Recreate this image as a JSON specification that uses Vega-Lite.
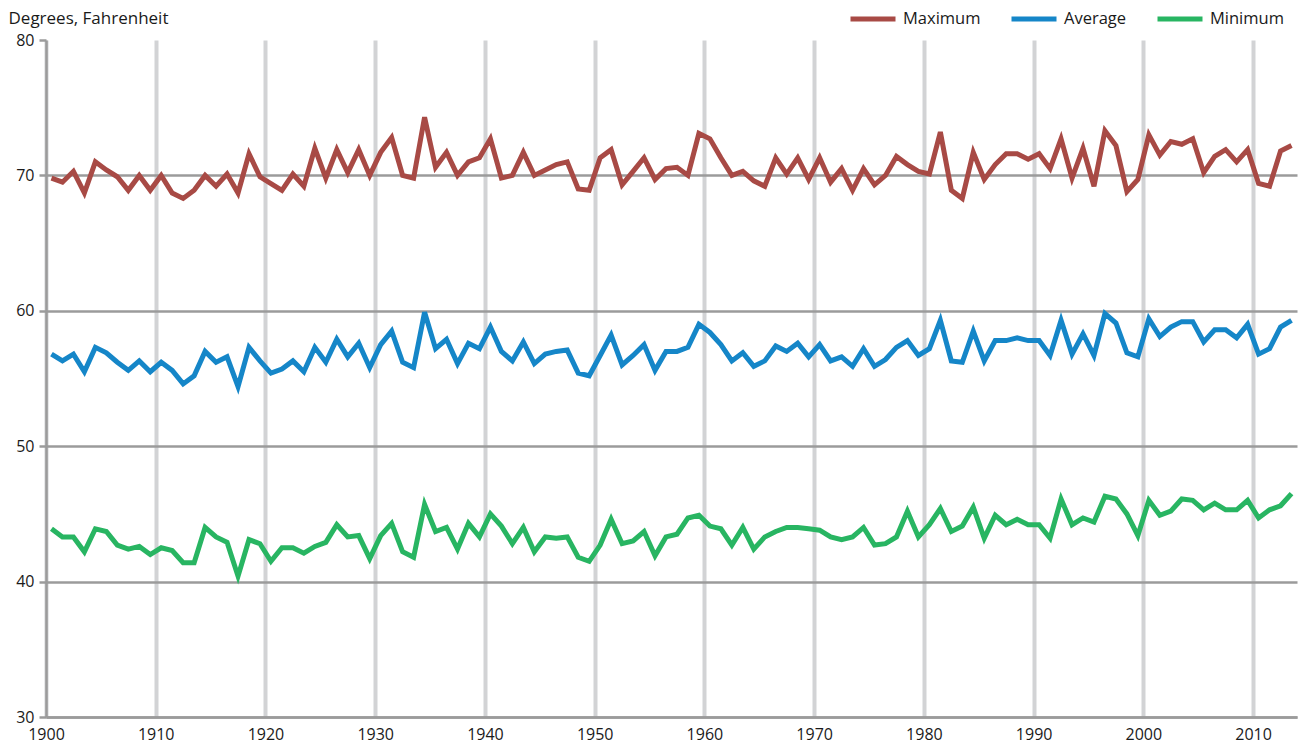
{
  "$schema": "https://vega.github.io/schema/vega-lite/v6.json",
  "autosize": "none",
  "width": 1251,
  "height": 677,
  "padding": {"left": 46, "top": 40, "right": 4, "bottom": 37},
  "background": "white",
  "config": {
    "view": {"stroke": null},
    "font": "Open Sans",
    "axis": {"labelFont": "Open Sans", "labelFontSize": 16, "labelColor": "#1a1a1a", "titleFont": "Open Sans"},
    "legend": {"labelFont": "Open Sans"}
  },
  "data": {
    "values": [
      {"year":"1900","Maximum":69.8,"Average":56.8,"Minimum":43.9},
      {"year":"1901","Maximum":69.5,"Average":56.3,"Minimum":43.3},
      {"year":"1902","Maximum":70.3,"Average":56.8,"Minimum":43.3},
      {"year":"1903","Maximum":68.7,"Average":55.5,"Minimum":42.2},
      {"year":"1904","Maximum":71.0,"Average":57.3,"Minimum":43.9},
      {"year":"1905","Maximum":70.4,"Average":56.9,"Minimum":43.7},
      {"year":"1906","Maximum":69.9,"Average":56.2,"Minimum":42.7},
      {"year":"1907","Maximum":68.9,"Average":55.6,"Minimum":42.4},
      {"year":"1908","Maximum":70.0,"Average":56.3,"Minimum":42.6},
      {"year":"1909","Maximum":68.9,"Average":55.5,"Minimum":42.0},
      {"year":"1910","Maximum":70.0,"Average":56.2,"Minimum":42.5},
      {"year":"1911","Maximum":68.7,"Average":55.6,"Minimum":42.3},
      {"year":"1912","Maximum":68.3,"Average":54.6,"Minimum":41.4},
      {"year":"1913","Maximum":68.9,"Average":55.2,"Minimum":41.4},
      {"year":"1914","Maximum":70.0,"Average":57.0,"Minimum":44.0},
      {"year":"1915","Maximum":69.2,"Average":56.2,"Minimum":43.3},
      {"year":"1916","Maximum":70.1,"Average":56.6,"Minimum":42.9},
      {"year":"1917","Maximum":68.7,"Average":54.4,"Minimum":40.4},
      {"year":"1918","Maximum":71.6,"Average":57.3,"Minimum":43.1},
      {"year":"1919","Maximum":69.9,"Average":56.3,"Minimum":42.8},
      {"year":"1920","Maximum":69.4,"Average":55.4,"Minimum":41.5},
      {"year":"1921","Maximum":68.9,"Average":55.7,"Minimum":42.5},
      {"year":"1922","Maximum":70.1,"Average":56.3,"Minimum":42.5},
      {"year":"1923","Maximum":69.2,"Average":55.5,"Minimum":42.1},
      {"year":"1924","Maximum":72.0,"Average":57.3,"Minimum":42.6},
      {"year":"1925","Maximum":69.8,"Average":56.2,"Minimum":42.9},
      {"year":"1926","Maximum":71.9,"Average":57.9,"Minimum":44.2},
      {"year":"1927","Maximum":70.2,"Average":56.6,"Minimum":43.3},
      {"year":"1928","Maximum":71.9,"Average":57.6,"Minimum":43.4},
      {"year":"1929","Maximum":70.0,"Average":55.8,"Minimum":41.7},
      {"year":"1930","Maximum":71.7,"Average":57.5,"Minimum":43.4},
      {"year":"1931","Maximum":72.8,"Average":58.5,"Minimum":44.3},
      {"year":"1932","Maximum":70.0,"Average":56.2,"Minimum":42.2},
      {"year":"1933","Maximum":69.8,"Average":55.8,"Minimum":41.8},
      {"year":"1934","Maximum":74.3,"Average":59.9,"Minimum":45.7},
      {"year":"1935","Maximum":70.6,"Average":57.2,"Minimum":43.7},
      {"year":"1936","Maximum":71.7,"Average":57.9,"Minimum":44.0},
      {"year":"1937","Maximum":70.0,"Average":56.1,"Minimum":42.4},
      {"year":"1938","Maximum":71.0,"Average":57.6,"Minimum":44.3},
      {"year":"1939","Maximum":71.3,"Average":57.2,"Minimum":43.3},
      {"year":"1940","Maximum":72.7,"Average":58.8,"Minimum":45.0},
      {"year":"1941","Maximum":69.8,"Average":57.0,"Minimum":44.1},
      {"year":"1942","Maximum":70.0,"Average":56.3,"Minimum":42.8},
      {"year":"1943","Maximum":71.7,"Average":57.7,"Minimum":44.0},
      {"year":"1944","Maximum":70.0,"Average":56.1,"Minimum":42.2},
      {"year":"1945","Maximum":70.4,"Average":56.8,"Minimum":43.3},
      {"year":"1946","Maximum":70.8,"Average":57.0,"Minimum":43.2},
      {"year":"1947","Maximum":71.0,"Average":57.1,"Minimum":43.3},
      {"year":"1948","Maximum":69.0,"Average":55.4,"Minimum":41.8},
      {"year":"1949","Maximum":68.9,"Average":55.2,"Minimum":41.5},
      {"year":"1950","Maximum":71.3,"Average":56.7,"Minimum":42.7},
      {"year":"1951","Maximum":71.9,"Average":58.2,"Minimum":44.6},
      {"year":"1952","Maximum":69.3,"Average":56.0,"Minimum":42.8},
      {"year":"1953","Maximum":70.3,"Average":56.7,"Minimum":43.0},
      {"year":"1954","Maximum":71.3,"Average":57.5,"Minimum":43.7},
      {"year":"1955","Maximum":69.7,"Average":55.6,"Minimum":41.9},
      {"year":"1956","Maximum":70.5,"Average":57.0,"Minimum":43.3},
      {"year":"1957","Maximum":70.6,"Average":57.0,"Minimum":43.5},
      {"year":"1958","Maximum":70.0,"Average":57.3,"Minimum":44.7},
      {"year":"1959","Maximum":73.1,"Average":59.0,"Minimum":44.9},
      {"year":"1960","Maximum":72.7,"Average":58.4,"Minimum":44.1},
      {"year":"1961","Maximum":71.3,"Average":57.5,"Minimum":43.9},
      {"year":"1962","Maximum":70.0,"Average":56.3,"Minimum":42.7},
      {"year":"1963","Maximum":70.3,"Average":56.9,"Minimum":44.0},
      {"year":"1964","Maximum":69.6,"Average":55.9,"Minimum":42.4},
      {"year":"1965","Maximum":69.2,"Average":56.3,"Minimum":43.3},
      {"year":"1966","Maximum":71.3,"Average":57.4,"Minimum":43.7},
      {"year":"1967","Maximum":70.1,"Average":57.0,"Minimum":44.0},
      {"year":"1968","Maximum":71.3,"Average":57.6,"Minimum":44.0},
      {"year":"1969","Maximum":69.7,"Average":56.6,"Minimum":43.9},
      {"year":"1970","Maximum":71.3,"Average":57.5,"Minimum":43.8},
      {"year":"1971","Maximum":69.5,"Average":56.3,"Minimum":43.3},
      {"year":"1972","Maximum":70.5,"Average":56.6,"Minimum":43.1},
      {"year":"1973","Maximum":68.9,"Average":55.9,"Minimum":43.3},
      {"year":"1974","Maximum":70.5,"Average":57.2,"Minimum":44.0},
      {"year":"1975","Maximum":69.3,"Average":55.9,"Minimum":42.7},
      {"year":"1976","Maximum":70.0,"Average":56.4,"Minimum":42.8},
      {"year":"1977","Maximum":71.4,"Average":57.3,"Minimum":43.3},
      {"year":"1978","Maximum":70.8,"Average":57.8,"Minimum":45.2},
      {"year":"1979","Maximum":70.3,"Average":56.7,"Minimum":43.3},
      {"year":"1980","Maximum":70.1,"Average":57.2,"Minimum":44.2},
      {"year":"1981","Maximum":73.2,"Average":59.3,"Minimum":45.4},
      {"year":"1982","Maximum":68.9,"Average":56.3,"Minimum":43.7},
      {"year":"1983","Maximum":68.3,"Average":56.2,"Minimum":44.1},
      {"year":"1984","Maximum":71.7,"Average":58.5,"Minimum":45.5},
      {"year":"1985","Maximum":69.7,"Average":56.3,"Minimum":43.2},
      {"year":"1986","Maximum":70.8,"Average":57.8,"Minimum":44.9},
      {"year":"1987","Maximum":71.6,"Average":57.8,"Minimum":44.2},
      {"year":"1988","Maximum":71.6,"Average":58.0,"Minimum":44.6},
      {"year":"1989","Maximum":71.2,"Average":57.8,"Minimum":44.2},
      {"year":"1990","Maximum":71.6,"Average":57.8,"Minimum":44.2},
      {"year":"1991","Maximum":70.5,"Average":56.7,"Minimum":43.2},
      {"year":"1992","Maximum":72.7,"Average":59.3,"Minimum":46.1},
      {"year":"1993","Maximum":69.8,"Average":56.8,"Minimum":44.2},
      {"year":"1994","Maximum":72.0,"Average":58.3,"Minimum":44.7},
      {"year":"1995","Maximum":69.2,"Average":56.7,"Minimum":44.4},
      {"year":"1996","Maximum":73.3,"Average":59.8,"Minimum":46.3},
      {"year":"1997","Maximum":72.2,"Average":59.1,"Minimum":46.1},
      {"year":"1998","Maximum":68.8,"Average":56.9,"Minimum":45.0},
      {"year":"1999","Maximum":69.7,"Average":56.6,"Minimum":43.4},
      {"year":"2000","Maximum":73.0,"Average":59.4,"Minimum":46.0},
      {"year":"2001","Maximum":71.5,"Average":58.1,"Minimum":44.9},
      {"year":"2002","Maximum":72.5,"Average":58.8,"Minimum":45.2},
      {"year":"2003","Maximum":72.3,"Average":59.2,"Minimum":46.1},
      {"year":"2004","Maximum":72.7,"Average":59.2,"Minimum":46.0},
      {"year":"2005","Maximum":70.2,"Average":57.7,"Minimum":45.3},
      {"year":"2006","Maximum":71.4,"Average":58.6,"Minimum":45.8},
      {"year":"2007","Maximum":71.9,"Average":58.6,"Minimum":45.3},
      {"year":"2008","Maximum":71.0,"Average":58.0,"Minimum":45.3},
      {"year":"2009","Maximum":71.9,"Average":59.0,"Minimum":46.0},
      {"year":"2010","Maximum":69.4,"Average":56.8,"Minimum":44.7},
      {"year":"2011","Maximum":69.2,"Average":57.2,"Minimum":45.3},
      {"year":"2012","Maximum":71.8,"Average":58.8,"Minimum":45.6},
      {"year":"2013","Maximum":72.2,"Average":59.3,"Minimum":46.5}
    ]
  },
  "transform": [
    {"fold": ["Maximum", "Average", "Minimum"], "as": ["series", "temp"]}
  ],
  "mark": {"type": "line", "strokeWidth": 5, "strokeJoin": "miter", "strokeCap": "butt"},
  "encoding": {
    "x": {
      "field": "year",
      "type": "temporal",
      "timeUnit": "utcyear",
      "bandPosition": 0.5,
      "scale": {"domain": [{"year": 1900, "utc": true}, {"year": 2014, "utc": true}]},
      "axis": {
        "title": null,
        "values": [
          {"year": 1900, "utc": true}, {"year": 1910, "utc": true}, {"year": 1920, "utc": true},
          {"year": 1930, "utc": true}, {"year": 1940, "utc": true}, {"year": 1950, "utc": true},
          {"year": 1960, "utc": true}, {"year": 1970, "utc": true}, {"year": 1980, "utc": true},
          {"year": 1990, "utc": true}, {"year": 2000, "utc": true}, {"year": 2010, "utc": true}
        ],
        "format": "%Y",
        "grid": true,
        "gridColor": "#d2d3d5",
        "gridWidth": 4,
        "domain": true,
        "domainColor": "#9b9b9b",
        "domainWidth": 2.5,
        "ticks": false,
        "labelPadding": 9,
        "labelFlush": false
      }
    },
    "y": {
      "field": "temp",
      "type": "quantitative",
      "scale": {"domain": [30, 80], "nice": false, "zero": false},
      "axis": {
        "title": "Degrees, Fahrenheit",
        "titleAngle": 0,
        "titleAlign": "left",
        "titleBaseline": "middle",
        "titleX": -38,
        "titleY": -22,
        "titleFontSize": 17,
        "titleFontWeight": "normal",
        "titleColor": "#1a1a1a",
        "values": [30, 40, 50, 60, 70, 80],
        "grid": true,
        "gridColor": "#9b9b9b",
        "gridWidth": 2.5,
        "gridOpacity": {"condition": {"test": "datum.value == 80", "value": 0}, "value": 1},
        "domain": true,
        "domainColor": "#9b9b9b",
        "domainWidth": 2.5,
        "ticks": true,
        "tickColor": "#9b9b9b",
        "tickWidth": 2.5,
        "tickSize": 7,
        "labelPadding": 5
      }
    },
    "color": {
      "field": "series",
      "type": "nominal",
      "scale": {"domain": ["Maximum", "Average", "Minimum"], "range": ["#a84a45", "#1586c8", "#28b562"]},
      "legend": {
        "title": null,
        "orient": "none",
        "direction": "horizontal",
        "legendX": 802,
        "legendY": -46,
        "symbolType": "stroke",
        "symbolSize": 2025,
        "symbolStrokeWidth": 5,
        "labelFontSize": 16.5,
        "labelColor": "#1a1a1a",
        "labelOffset": 5,
        "columnPadding": 20
      }
    }
  }
}
